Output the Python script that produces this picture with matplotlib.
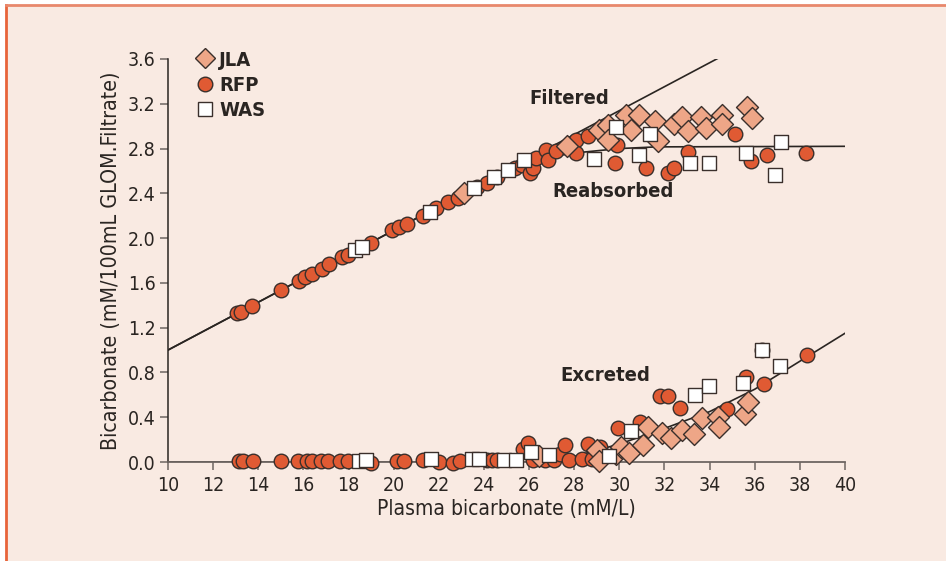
import matplotlib
matplotlib.use('Agg')
import matplotlib.pyplot as plt
from matplotlib.lines import Line2D
from matplotlib.patches import Rectangle

plt.rcParams['font.family'] = ['DejaVu Sans']
plt.rcParams['font.stretch'] = 'condensed'

## upper group: filtered / reabsorbed
rfp_up_x = [13.07, 13.25, 13.72, 15.0, 15.82, 16.08, 16.38, 16.82, 17.15, 17.7, 17.96, 19.0, 19.94, 20.25,
            20.58, 21.31, 21.87, 22.42, 22.83, 23.7, 24.12, 24.6, 25.37, 25.67, 26.04, 26.19, 26.3, 26.73,
            26.85, 27.19, 28.08, 28.08, 28.6, 29.88, 29.8, 31.16, 32.17, 32.43, 33.03, 35.12, 35.82, 36.53, 38.25]
rfp_up_y = [1.33, 1.34, 1.39, 1.54, 1.62, 1.655, 1.675, 1.72, 1.765, 1.83, 1.85, 1.96, 2.07, 2.10,
            2.125, 2.20, 2.265, 2.32, 2.36, 2.46, 2.49, 2.545, 2.63, 2.65, 2.58, 2.63, 2.72, 2.79,
            2.70, 2.78, 2.875, 2.76, 2.91, 2.83, 2.67, 2.63, 2.58, 2.63, 2.77, 2.93, 2.69, 2.74, 2.76]
jla_up_x = [23.11, 27.67, 29.1, 29.51, 29.48, 30.28, 30.87, 30.51, 31.58, 31.7, 32.43, 32.79, 33.05, 33.62,
            33.84, 34.53, 34.53, 35.64, 35.9]
jla_up_y = [2.40, 2.82, 2.97, 3.01, 2.88, 3.10, 3.10, 2.97, 3.05, 2.87, 3.02, 3.08, 2.96, 3.08,
            2.985, 3.10, 3.02, 3.17, 3.07]
was_up_x = [18.29, 18.58, 21.6, 23.56, 24.46, 25.05, 25.79, 28.89, 29.85, 30.87, 31.36, 33.13, 33.97,
            35.61, 36.9, 37.15]
was_up_y = [1.89, 1.92, 2.23, 2.45, 2.55, 2.61, 2.70, 2.71, 2.99, 2.74, 2.93, 2.67, 2.67,
            2.76, 2.56, 2.855]

## lower group: excreted
rfp_lo_x = [13.15, 13.34, 13.78, 14.99, 15.77, 16.14, 16.38, 16.78, 17.08, 17.62, 17.96, 19.01, 20.13, 20.46,
            21.31, 22.0, 22.61, 22.94, 24.12, 24.34, 24.56, 25.74, 25.96, 26.16, 26.7, 27.1, 27.37, 27.59,
            27.78, 28.36, 28.6, 28.77, 29.14, 29.95, 30.91, 31.8, 32.17, 32.69, 34.75, 35.61, 36.3, 36.39, 38.3]
rfp_lo_y = [0.01, 0.01, 0.01, 0.01, 0.01, 0.01, 0.01, 0.01, 0.01, 0.01, 0.005, -0.01, 0.01, 0.005,
            0.015, 0.0, -0.005, 0.01, 0.015, 0.02, 0.02, 0.12, 0.17, 0.02, 0.02, 0.015, 0.07, 0.15,
            0.02, 0.03, 0.16, 0.03, 0.13, 0.30, 0.36, 0.59, 0.59, 0.48, 0.47, 0.76, 1.0, 0.70, 0.96]
jla_lo_x = [26.45, 28.99, 29.1, 29.85, 30.07, 30.44, 31.06, 31.28, 31.87, 32.27, 32.76, 33.32, 33.65,
            34.38, 34.43, 35.56, 35.71]
jla_lo_y = [0.05, 0.11, 0.01, 0.07, 0.13, 0.08, 0.15, 0.31, 0.26, 0.21, 0.29, 0.25, 0.39,
            0.40, 0.31, 0.43, 0.54]
was_lo_x = [18.48, 18.76, 21.64, 23.45, 23.79, 24.89, 25.4, 26.08, 26.88, 29.55, 30.51, 33.35, 33.97,
            35.46, 36.3, 37.12]
was_lo_y = [0.01, 0.02, 0.03, 0.03, 0.03, 0.015, 0.015, 0.09, 0.06, 0.05, 0.28, 0.60, 0.68,
            0.71, 1.0, 0.86]

# fitted curves
filt_x = [10, 34.5]
filt_y = [1.0, 3.62]
reab_x = [10, 25.3, 26.2, 27.0, 28.25, 30.0, 31.65, 40]
reab_y = [1.0, 2.635, 2.70, 2.73, 2.765, 2.80, 2.815, 2.82]
excr_x = [10, 26.5, 28.0, 30.0, 32.0, 34.0, 36.0, 38.0, 40]
excr_y = [0.0, 0.0, 0.05, 0.16, 0.30, 0.45, 0.65, 0.90, 1.15]

bg = '#f9eae2'
edge = '#3a2f2b'
red = '#e05a33'
pink = '#eea687'
ink = '#2a2522'

fig = plt.figure(figsize=(9.46, 5.61), dpi=100)
fig.patch.set_facecolor('white')
fig.patches.append(Rectangle((6/946, 0), 1, 1 - 5/561, transform=fig.transFigure,
                             facecolor=bg, edgecolor='none', zorder=-10))
fig.lines.append(Line2D([6/946, 6/946], [0, 1 - 5/561], transform=fig.transFigure, color='#e8643a', lw=2))
fig.lines.append(Line2D([6/946, 1], [1 - 5/561, 1 - 5/561], transform=fig.transFigure, color='#e8886c', lw=2))

ax = fig.add_axes([168/946, 1 - 462/561, (845 - 168)/946, (462 - 59)/561])
ax.set_facecolor('none')

for cx, cy in [(filt_x, filt_y), (reab_x, reab_y), (excr_x, excr_y)]:
    ax.plot(cx, cy, color=ink, lw=1.2, zorder=1)

kw = dict(edgecolors=edge, linewidths=1.0, clip_on=False, zorder=3)
ax.scatter(rfp_up_x + rfp_lo_x, rfp_up_y + rfp_lo_y, s=110, marker='o', c=red, **kw)
ax.scatter(jla_up_x + jla_lo_x, jla_up_y + jla_lo_y, s=125, marker='D', c=pink, **kw)
ax.scatter(was_up_x + was_lo_x, was_up_y + was_lo_y, s=95, marker='s', c='white', **kw)

ax.set_xlim(10, 40)
ax.set_ylim(0, 3.6)
ax.set_xticks(range(10, 41, 2))
ax.set_yticks([i * 0.4 for i in range(10)])
ax.set_yticklabels(['%.1f' % (i * 0.4) for i in range(10)])
for s in ['top', 'right']:
    ax.spines[s].set_visible(False)
ax.spines['left'].set_color(ink)
ax.spines['bottom'].set_color('#6e6662')
ax.spines['left'].set_linewidth(1.1)
ax.spines['bottom'].set_linewidth(1.3)
ax.tick_params(axis='x', direction='out', length=6, width=1.1, color='#6e6662',
               labelsize=14, labelcolor=ink, pad=4)
ax.tick_params(axis='y', direction='out', length=6, width=1.1, color='#6e6662',
               labelsize=14, labelcolor=ink, pad=3)
ax.set_xlabel('Plasma bicarbonate (mM/L)', fontsize=15, color=ink, labelpad=3)
ax.set_ylabel('Bicarbonate (mM/100mL GLOM.Filtrate)', fontsize=15.3, color=ink, labelpad=5)

tk = dict(fontsize=14.5, fontweight='bold', color=ink, ha='center', va='center')
ax.text(27.77, 3.25, 'Filtered', **tk)
ax.text(29.7, 2.42, 'Reabsorbed', **tk)
ax.text(29.4, 0.77, 'Excreted', **tk)

handles = [Line2D([], [], ls='none', marker='D', ms=10.5, mfc=pink, mec=edge, mew=1.0),
           Line2D([], [], ls='none', marker='o', ms=10.5, mfc=red, mec=edge, mew=1.0),
           Line2D([], [], ls='none', marker='s', ms=9.5, mfc='white', mec=edge, mew=1.0)]
leg = ax.legend(handles, ['JLA', 'RFP', 'WAS'], loc='upper left', bbox_to_anchor=(0.01, 1.066),
                frameon=False, handletextpad=0.1, labelspacing=0.3, handlelength=1.2,
                prop={'size': 14.5, 'weight': 'bold'})
for t in leg.get_texts():
    t.set_color(ink)

fig.savefig('out.png', dpi=100, facecolor=fig.get_facecolor())
